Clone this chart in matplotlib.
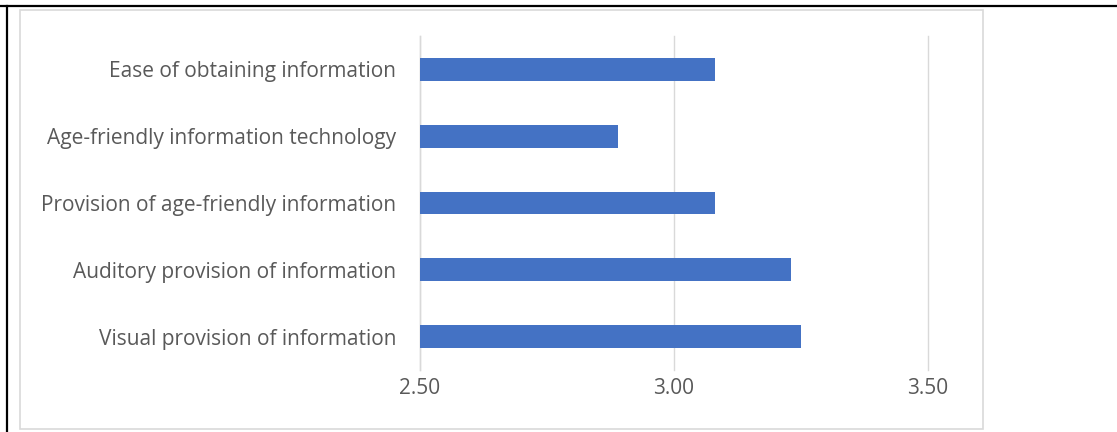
import matplotlib.pyplot as plt
from matplotlib.lines import Line2D
from matplotlib.patches import Rectangle

# Mean scores per item, listed bottom to top
categories = [
    "Visual provision of information",
    "Auditory provision of information",
    "Provision of age-friendly information",
    "Age-friendly information technology",
    "Ease of obtaining information",
]
scores = [3.25, 3.23, 3.08, 2.89, 3.08]
xticks = [2.50, 3.00, 3.50]
xtick_labels = ["2.50", "3.00", "3.50"]

W, H = 1117, 432
fig = plt.figure(figsize=(W / 100, H / 100), dpi=100)
plt.rcParams['font.family'] = ['Open Sans', 'DejaVu Sans']

# outer black border (top and left) and the light grey chart frame
fig.add_artist(Line2D([0, 1], [1 - 6 / H, 1 - 6 / H], color='black', lw=1.6))
fig.add_artist(Line2D([7 / W, 7 / W], [0, 1 - 6 / H], color='black', lw=1.6))
fig.add_artist(Rectangle((20 / W, 1 - 429 / H), (983 - 20) / W, (429 - 10) / H,
                         fill=False, edgecolor='#d9d9d9', lw=1.2))

ax = fig.add_axes([420 / W, 1 - 370 / H, (928 - 420) / W, (370 - 36) / H])
base = xticks[0]
ax.barh(range(len(categories)), [s - base for s in scores], left=base,
        height=0.34, color='#4472C4', zorder=3)

ax.set_xlim(xticks[0], xticks[-1])
ax.set_ylim(-0.5, len(categories) - 0.5)
ax.set_xticks(xticks)
ax.set_xticklabels(xtick_labels)
ax.set_yticks(range(len(categories)))
ax.set_yticklabels(categories)
ax.tick_params(axis='both', length=0, labelsize=15, labelcolor='#595959')
ax.tick_params(axis='x', pad=6)
ax.tick_params(axis='y', pad=17)
ax.grid(axis='x', color='#d9d9d9', lw=1.0, zorder=0)
for gl in ax.xaxis.get_gridlines():
    gl.set_clip_on(False)
for side in ['top', 'right', 'bottom']:
    ax.spines[side].set_visible(False)
ax.spines['left'].set_color('#d9d9d9')
ax.spines['left'].set_linewidth(1.0)

plt.savefig('out.png', dpi=100)
